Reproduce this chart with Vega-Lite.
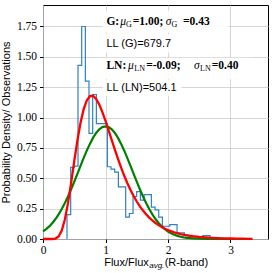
{
  "$schema": "https://vega.github.io/schema/vega-lite/v6.json",
  "width": 225,
  "height": 234,
  "padding": {"left": 43, "top": 5, "right": 6, "bottom": 34},
  "autosize": {"type": "none"},
  "background": "white",
  "config": {
    "view": {"stroke": "black", "strokeWidth": 1},
    "axis": {
      "grid": true,
      "gridColor": "#cccccc",
      "gridWidth": 0.8,
      "domain": false,
      "tickColor": "black",
      "tickSize": 3.5,
      "labelColor": "black",
      "labelFont": "Liberation Serif",
      "labelFontSize": 11.5,
      "labelOverlap": false,
      "labelBound": false,
      "labelFlush": false,
      "titleColor": "black",
      "titleFont": "Liberation Sans",
      "titleFontSize": 11,
      "titleFontWeight": "normal"
    }
  },
  "resolve": {"axis": {"x": "independent", "y": "independent"}},
  "datasets": {
    "hist": [
      {"i": 0, "edge": 0.384, "density": 0},
      {"i": 1, "edge": 0.384, "density": 0.20},
      {"i": 2, "edge": 0.443, "density": 0.59},
      {"i": 3, "edge": 0.501, "density": 0.60},
      {"i": 4, "edge": 0.560, "density": 1.43},
      {"i": 5, "edge": 0.619, "density": 1.75},
      {"i": 6, "edge": 0.678, "density": 1.30},
      {"i": 7, "edge": 0.736, "density": 0.87},
      {"i": 8, "edge": 0.795, "density": 1.19},
      {"i": 9, "edge": 0.854, "density": 0.95},
      {"i": 10, "edge": 0.912, "density": 0.95},
      {"i": 11, "edge": 0.971, "density": 0.95},
      {"i": 12, "edge": 1.030, "density": 0.595},
      {"i": 13, "edge": 1.088, "density": 0.575},
      {"i": 14, "edge": 1.147, "density": 0.55},
      {"i": 15, "edge": 1.206, "density": 0.43},
      {"i": 16, "edge": 1.265, "density": 0.43},
      {"i": 17, "edge": 1.323, "density": 0.18},
      {"i": 18, "edge": 1.382, "density": 0.21},
      {"i": 19, "edge": 1.441, "density": 0.35},
      {"i": 20, "edge": 1.499, "density": 0.39},
      {"i": 21, "edge": 1.558, "density": 0.32},
      {"i": 22, "edge": 1.617, "density": 0.365},
      {"i": 23, "edge": 1.675, "density": 0.365},
      {"i": 24, "edge": 1.734, "density": 0.263},
      {"i": 25, "edge": 1.793, "density": 0.24},
      {"i": 26, "edge": 1.852, "density": 0.18},
      {"i": 27, "edge": 1.910, "density": 0.105},
      {"i": 28, "edge": 1.969, "density": 0.105},
      {"i": 29, "edge": 2.028, "density": 0.118},
      {"i": 30, "edge": 2.086, "density": 0.118},
      {"i": 31, "edge": 2.145, "density": 0.05},
      {"i": 32, "edge": 2.204, "density": 0.05},
      {"i": 33, "edge": 2.262, "density": 0.035},
      {"i": 34, "edge": 2.321, "density": 0.025},
      {"i": 35, "edge": 2.380, "density": 0.02},
      {"i": 36, "edge": 2.438, "density": 0.02},
      {"i": 37, "edge": 2.497, "density": 0.012},
      {"i": 38, "edge": 2.556, "density": 0.027},
      {"i": 39, "edge": 2.615, "density": 0.027},
      {"i": 40, "edge": 2.673, "density": 0.006},
      {"i": 41, "edge": 2.732, "density": 0.006},
      {"i": 42, "edge": 2.791, "density": 0.003},
      {"i": 43, "edge": 2.849, "density": 0.003},
      {"i": 44, "edge": 2.908, "density": 0},
      {"i": 45, "edge": 2.967, "density": 0.003},
      {"i": 46, "edge": 3.026, "density": 0},
      {"i": 47, "edge": 3.084, "density": 0},
      {"i": 48, "edge": 3.143, "density": 0},
      {"i": 49, "edge": 3.202, "density": 0},
      {"i": 50, "edge": 3.260, "density": 0.003},
      {"i": 51, "edge": 3.319, "density": 0}
    ],
    "gauss": [
      {"x": 0, "density": 0.0621}, {"x": 0.05, "density": 0.0808}, {"x": 0.1, "density": 0.1038},
      {"x": 0.15, "density": 0.1315}, {"x": 0.2, "density": 0.1644}, {"x": 0.25, "density": 0.2027},
      {"x": 0.3, "density": 0.2466}, {"x": 0.35, "density": 0.2960}, {"x": 0.4, "density": 0.3505},
      {"x": 0.45, "density": 0.4094}, {"x": 0.5, "density": 0.4718}, {"x": 0.55, "density": 0.5366},
      {"x": 0.6, "density": 0.6019}, {"x": 0.65, "density": 0.6661}, {"x": 0.7, "density": 0.7273},
      {"x": 0.75, "density": 0.7834}, {"x": 0.8, "density": 0.8326}, {"x": 0.85, "density": 0.8730},
      {"x": 0.9, "density": 0.9029}, {"x": 0.95, "density": 0.9215}, {"x": 1.0, "density": 0.9277},
      {"x": 1.05, "density": 0.9215}, {"x": 1.1, "density": 0.9029}, {"x": 1.15, "density": 0.8730},
      {"x": 1.2, "density": 0.8326}, {"x": 1.25, "density": 0.7834}, {"x": 1.3, "density": 0.7273},
      {"x": 1.35, "density": 0.6661}, {"x": 1.4, "density": 0.6019}, {"x": 1.45, "density": 0.5366},
      {"x": 1.5, "density": 0.4718}, {"x": 1.55, "density": 0.4094}, {"x": 1.6, "density": 0.3505},
      {"x": 1.65, "density": 0.2960}, {"x": 1.7, "density": 0.2466}, {"x": 1.75, "density": 0.2027},
      {"x": 1.8, "density": 0.1644}, {"x": 1.85, "density": 0.1315}, {"x": 1.9, "density": 0.1038},
      {"x": 1.95, "density": 0.0808}, {"x": 2.0, "density": 0.0621}, {"x": 2.05, "density": 0.0470},
      {"x": 2.1, "density": 0.0352}, {"x": 2.15, "density": 0.0260}, {"x": 2.2, "density": 0.0189},
      {"x": 2.25, "density": 0.0136}, {"x": 2.3, "density": 0.0096}, {"x": 2.4, "density": 0.0046},
      {"x": 2.5, "density": 0.0021}, {"x": 2.6, "density": 0.0009}, {"x": 2.7, "density": 0.0004},
      {"x": 2.8, "density": 0.0001}, {"x": 3.0, "density": 0}, {"x": 3.35, "density": 0}
    ],
    "lognorm": [
      {"x": 0, "density": 0}, {"x": 0.05, "density": 0}, {"x": 0.1, "density": 0},
      {"x": 0.15, "density": 0.0002}, {"x": 0.2, "density": 0.0037}, {"x": 0.25, "density": 0.0209},
      {"x": 0.3, "density": 0.0688}, {"x": 0.35, "density": 0.1601}, {"x": 0.4, "density": 0.2951},
      {"x": 0.45, "density": 0.4617}, {"x": 0.5, "density": 0.6401}, {"x": 0.55, "density": 0.8101},
      {"x": 0.6, "density": 0.9558}, {"x": 0.65, "density": 1.0673}, {"x": 0.7, "density": 1.1409},
      {"x": 0.75, "density": 1.1769}, {"x": 0.8, "density": 1.1795}, {"x": 0.85, "density": 1.1542},
      {"x": 0.9, "density": 1.1074}, {"x": 0.95, "density": 1.0449}, {"x": 1.0, "density": 0.9724},
      {"x": 1.05, "density": 0.8944}, {"x": 1.1, "density": 0.8144}, {"x": 1.15, "density": 0.7354},
      {"x": 1.2, "density": 0.6592}, {"x": 1.25, "density": 0.5873}, {"x": 1.3, "density": 0.5205},
      {"x": 1.35, "density": 0.4592}, {"x": 1.4, "density": 0.4035}, {"x": 1.45, "density": 0.3535},
      {"x": 1.5, "density": 0.3087}, {"x": 1.55, "density": 0.2690}, {"x": 1.6, "density": 0.2340},
      {"x": 1.65, "density": 0.2031}, {"x": 1.7, "density": 0.1760}, {"x": 1.75, "density": 0.1524},
      {"x": 1.8, "density": 0.1319}, {"x": 1.85, "density": 0.1140}, {"x": 1.9, "density": 0.0985},
      {"x": 1.95, "density": 0.0850}, {"x": 2.0, "density": 0.0733}, {"x": 2.1, "density": 0.0546},
      {"x": 2.2, "density": 0.0407}, {"x": 2.3, "density": 0.0303}, {"x": 2.4, "density": 0.0226},
      {"x": 2.5, "density": 0.0169}, {"x": 2.6, "density": 0.0126}, {"x": 2.7, "density": 0.0094},
      {"x": 2.8, "density": 0.0071}, {"x": 2.9, "density": 0.0053}, {"x": 3.0, "density": 0.0040},
      {"x": 3.1, "density": 0.0030}, {"x": 3.2, "density": 0.0023}, {"x": 3.3, "density": 0.0018},
      {"x": 3.35, "density": 0.0015}
    ],
    "boxes": [
      {"x0": 0.955, "x1": 2.971, "y0": 1.699, "y1": 1.879},
      {"x0": 0.955, "x1": 2.107, "y0": 1.533, "y1": 1.686},
      {"x0": 0.955, "x1": 3.307, "y0": 1.315, "y1": 1.492},
      {"x0": 0.955, "x1": 2.219, "y0": 1.179, "y1": 1.307}
    ],
    "bold": [
      {"x": 1.0144, "y": 1.788, "t": "G:"},
      {"x": 1.4352, "y": 1.788, "t": "=1.00;"},
      {"x": 2.24, "y": 1.788, "t": "=0.43"},
      {"x": 1.0144, "y": 1.426, "t": "LN:"},
      {"x": 1.651, "y": 1.426, "t": "=-0.09;"},
      {"x": 2.7, "y": 1.426, "t": "=0.40"}
    ],
    "greek": [
      {"x": 1.2352, "y": 1.788, "t": "μ"},
      {"x": 1.9632, "y": 1.788, "t": "σ"},
      {"x": 1.36, "y": 1.426, "t": "μ"},
      {"x": 2.416, "y": 1.426, "t": "σ"}
    ],
    "sub": [
      {"x": 1.328, "y": 1.759, "t": "G"},
      {"x": 2.056, "y": 1.759, "t": "G"},
      {"x": 1.46, "y": 1.397, "t": "LN"},
      {"x": 2.512, "y": 1.397, "t": "LN"}
    ],
    "sans": [
      {"x": 1.0144, "y": 1.609, "t": "LL (G)=679.7"},
      {"x": 1.0144, "y": 1.245, "t": "LL (LN)=504.1"},
      {"x": 0.979, "y": -0.195, "t": "Flux/Flux"},
      {"x": 1.947, "y": -0.195, "t": "(R-band)"}
    ],
    "xsub": [
      {"x": 1.699, "y": -0.225, "t": "avg."}
    ]
  },
  "layer": [
    {
      "data": {"name": "hist"},
      "mark": {"type": "line", "interpolate": "step-after", "color": "#2f82c0", "strokeWidth": 1.2},
      "encoding": {
        "x": {
          "field": "edge", "type": "quantitative",
          "scale": {"domain": [0, 3.6], "nice": false, "zero": false},
          "axis": {"values": [0, 1, 2, 3], "format": "d", "title": null, "labelPadding": 2}
        },
        "y": {
          "field": "density", "type": "quantitative",
          "scale": {"domain": [0, 1.927], "nice": false},
          "axis": {
            "values": [0, 0.25, 0.5, 0.75, 1, 1.25, 1.5, 1.75],
            "format": ".2f",
            "labelPadding": 3,
            "title": "Probability Density/ Observations",
            "titleX": -32,
            "titleY": 117,
            "titleBaseline": "bottom",
            "titleAngle": -90
          }
        },
        "order": {"field": "i", "type": "quantitative"}
      }
    },
    {
      "data": {"name": "gauss"},
      "mark": {"type": "line", "color": "#008000", "strokeWidth": 2.2},
      "encoding": {
        "x": {"field": "x", "type": "quantitative", "scale": {"domain": [0, 3.6], "nice": false, "zero": false}, "axis": null},
        "y": {"field": "density", "type": "quantitative", "scale": {"domain": [0, 1.927], "nice": false}, "axis": null}
      }
    },
    {
      "data": {"name": "lognorm"},
      "mark": {"type": "line", "color": "#ff0000", "strokeWidth": 2.3},
      "encoding": {
        "x": {"field": "x", "type": "quantitative", "scale": {"domain": [0, 3.6], "nice": false, "zero": false}, "axis": null},
        "y": {"field": "density", "type": "quantitative", "scale": {"domain": [0, 1.927], "nice": false}, "axis": null}
      }
    },
    {
      "data": {"name": "boxes"},
      "mark": {"type": "rect", "color": "white", "opacity": 0.9},
      "encoding": {
        "x": {"field": "x0", "type": "quantitative", "scale": {"domain": [0, 3.6], "nice": false, "zero": false}, "axis": null},
        "x2": {"field": "x1"},
        "y": {"field": "y0", "type": "quantitative", "scale": {"domain": [0, 1.927], "nice": false}, "axis": null},
        "y2": {"field": "y1"}
      }
    },
    {
      "data": {"name": "bold"},
      "mark": {"type": "text", "font": "Liberation Serif", "fontWeight": "bold", "fontSize": 11.5, "align": "left", "baseline": "middle", "color": "black"},
      "encoding": {
        "x": {"field": "x", "type": "quantitative", "scale": {"domain": [0, 3.6], "nice": false, "zero": false}, "axis": null},
        "y": {"field": "y", "type": "quantitative", "scale": {"domain": [0, 1.927], "nice": false}, "axis": null},
        "text": {"field": "t"}
      }
    },
    {
      "data": {"name": "greek"},
      "mark": {"type": "text", "font": "Liberation Serif", "fontStyle": "italic", "fontSize": 11.5, "align": "left", "baseline": "middle", "color": "black"},
      "encoding": {
        "x": {"field": "x", "type": "quantitative", "scale": {"domain": [0, 3.6], "nice": false, "zero": false}, "axis": null},
        "y": {"field": "y", "type": "quantitative", "scale": {"domain": [0, 1.927], "nice": false}, "axis": null},
        "text": {"field": "t"}
      }
    },
    {
      "data": {"name": "sub"},
      "mark": {"type": "text", "font": "Liberation Serif", "fontSize": 8, "align": "left", "baseline": "middle", "color": "black"},
      "encoding": {
        "x": {"field": "x", "type": "quantitative", "scale": {"domain": [0, 3.6], "nice": false, "zero": false}, "axis": null},
        "y": {"field": "y", "type": "quantitative", "scale": {"domain": [0, 1.927], "nice": false}, "axis": null},
        "text": {"field": "t"}
      }
    },
    {
      "data": {"name": "sans"},
      "mark": {"type": "text", "font": "Liberation Sans", "fontSize": 11, "align": "left", "baseline": "middle", "color": "black"},
      "encoding": {
        "x": {"field": "x", "type": "quantitative", "scale": {"domain": [0, 3.6], "nice": false, "zero": false}, "axis": null},
        "y": {"field": "y", "type": "quantitative", "scale": {"domain": [0, 1.927], "nice": false}, "axis": null},
        "text": {"field": "t"}
      }
    },
    {
      "data": {"name": "xsub"},
      "mark": {"type": "text", "font": "Liberation Sans", "fontStyle": "italic", "fontSize": 8, "align": "left", "baseline": "middle", "color": "black"},
      "encoding": {
        "x": {"field": "x", "type": "quantitative", "scale": {"domain": [0, 3.6], "nice": false, "zero": false}, "axis": null},
        "y": {"field": "y", "type": "quantitative", "scale": {"domain": [0, 1.927], "nice": false}, "axis": null},
        "text": {"field": "t"}
      }
    }
  ]
}
